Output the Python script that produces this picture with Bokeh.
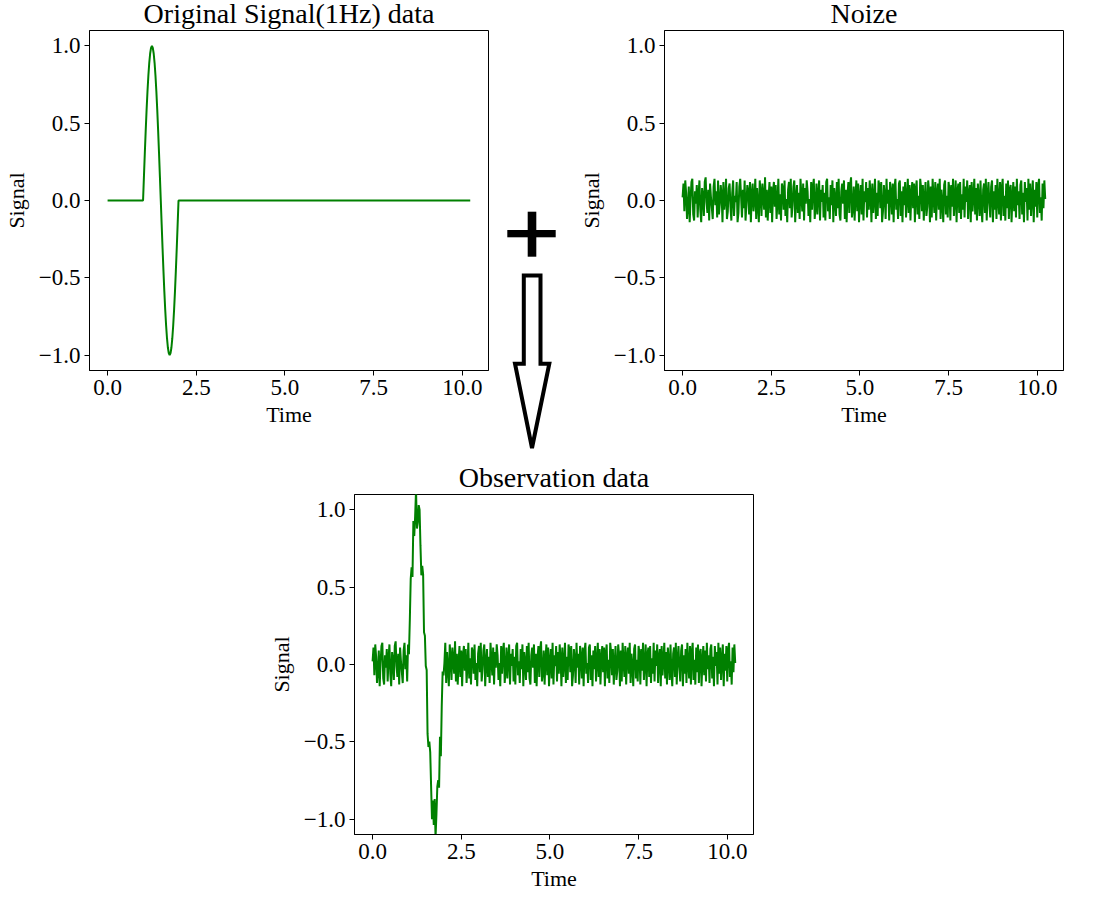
import numpy as np
from bokeh.plotting import figure
from bokeh.layouts import row, column
from bokeh.models import Range1d, FixedTicker, CustomJSTickFormatter, Spacer, Div
from bokeh.embed import file_html
from bokeh.resources import INLINE

# sampling interval of the recorded series (seconds)
dt = 0.025

# additive measurement noise, one value per sample
noise = [
    0.02, 0.11, -0.07, 0.13, 0.05, -0.12, -0.04, 0.09, -0.14, 0.01, 0.12, 0.14, -0.09, -0.13, 0.06, -0.02, 0.10, -0.11, 0.04, 0.13,
    -0.06, -0.14, 0.08, 0.03, -0.10, 0.12, 0.15, -0.01, -0.08, 0.07, -0.13, 0.11, 0.02, -0.05, -0.12, 0.09, 0.14, -0.03, 0.06, -0.11,
    0.13, -0.09, -0.02, 0.10, 0.04, -0.14, 0.12, -0.06, 0.01, 0.14, -0.12, -0.07, 0.08, 0.11, -0.04, -0.13, 0.05, 0.13, -0.10, 0.03,
    -0.01, 0.12, -0.14, -0.08, 0.09, 0.14, 0.02, -0.11, 0.07, -0.05, 0.13, -0.13, -0.02, 0.10, 0.06, -0.09, 0.12, -0.14, 0.04, 0.11,
    -0.07, 0.01, 0.14, -0.12, 0.08, -0.03, -0.14, 0.13, 0.05, -0.10, 0.11, 0.03, -0.06, 0.15, -0.11, 0.07, -0.13, 0.02, 0.12, -0.08,
    0.09, -0.14, 0.06, 0.12, -0.04, 0.10, -0.12, -0.01, 0.14, -0.09, 0.04, -0.13, 0.11, 0.08, -0.06, 0.13, -0.10, 0.01, -0.14, 0.07,
    0.12, -0.05, 0.14, -0.11, -0.03, 0.09, 0.13, -0.14, 0.02, 0.10, -0.08, 0.05, -0.12, 0.14, 0.03, -0.07, 0.11, -0.13, 0.08, -0.02,
    0.13, 0.06, -0.10, 0.01, -0.14, 0.12, -0.06, 0.09, 0.14, -0.12, -0.04, 0.11, -0.09, 0.04, 0.13, -0.13, 0.07, -0.01, 0.10, -0.11,
    0.05, -0.13, 0.12, 0.14, -0.07, 0.02, -0.12, 0.10, -0.03, 0.13, -0.14, 0.08, 0.01, -0.10, 0.12, -0.05, 0.14, -0.09, -0.13, 0.06,
    0.11, -0.02, 0.13, -0.12, 0.07, -0.14, 0.04, 0.12, -0.08, 0.10, 0.15, -0.11, -0.05, 0.09, -0.13, 0.03, 0.13, -0.07, 0.11, -0.14,
    0.02, 0.10, -0.09, 0.14, -0.13, 0.06, -0.01, 0.12, -0.11, 0.08, -0.06, 0.13, 0.04, -0.14, 0.11, -0.08, 0.01, 0.14, -0.12, 0.05,
    -0.10, 0.13, 0.09, -0.05, 0.12, -0.14, -0.07, 0.10, 0.03, -0.12, 0.14, -0.02, 0.07, -0.13, 0.12, 0.05, -0.09, 0.11, -0.14, 0.08,
    0.14, -0.06, 0.01, -0.12, 0.11, 0.13, -0.10, 0.06, -0.14, 0.09, -0.03, 0.12, -0.11, 0.02, 0.14, -0.08, 0.10, -0.13, 0.04, 0.12,
    -0.05, 0.11, -0.14, 0.07, 0.13, -0.09, 0.03, -0.12, 0.14, 0.08, -0.07, 0.10, -0.13, 0.01, 0.12, -0.10, -0.04, 0.13, 0.06, -0.14,
    0.09, -0.11, 0.14, 0.02, -0.08, 0.12, -0.13, 0.05, 0.11, -0.06, 0.14, -0.12, 0.07, -0.01, -0.14, 0.10, 0.13, -0.09, 0.03, -0.11,
    0.12, 0.07, -0.13, 0.10, -0.04, 0.14, -0.10, 0.01, 0.13, -0.14, 0.06, 0.11, -0.08, 0.12, -0.12, 0.04, -0.06, 0.14, -0.11, 0.09,
    -0.01, 0.13, -0.12, 0.05, 0.10, -0.14, 0.12, -0.07, 0.03, 0.14, -0.09, 0.08, -0.13, 0.11, 0.02, -0.10, 0.13, -0.05, -0.14, 0.07,
    0.11, -0.08, 0.14, -0.13, 0.04, 0.12, -0.02, -0.11, 0.09, 0.13, -0.14, 0.06, -0.06, 0.10, -0.12, 0.14, 0.01, -0.09, 0.12, -0.13,
    0.08, 0.14, -0.10, 0.03, -0.13, 0.11, -0.05, 0.13, -0.12, 0.07, 0.10, -0.14, 0.02, 0.12, -0.07, 0.09, -0.11, 0.14, -0.03, 0.06,
    -0.12, 0.10, 0.13, -0.09, 0.05, -0.14, 0.12, -0.01, 0.08, -0.13, 0.14, -0.06, 0.11, -0.10, 0.03, 0.13, -0.14, 0.07, -0.04, 0.12,
    -0.11, 0.09, 0.14, -0.08, 0.02, -0.13, 0.11, -0.05, 0.13, 0.01,
]

# one 1 Hz cycle of the source signal, sampled from t = 1 s to t = 2 s
pulse_start = 1.0
pulse = [
    0.0, 0.156, 0.309, 0.454, 0.588, 0.707, 0.809, 0.891, 0.951, 0.988,
    1.0, 0.988, 0.951, 0.891, 0.809, 0.707, 0.588, 0.454, 0.309, 0.156,
    0.0, -0.156, -0.309, -0.454, -0.588, -0.707, -0.809, -0.891, -0.951, -0.988,
    -1.0, -0.988, -0.951, -0.891, -0.809, -0.707, -0.588, -0.454, -0.309, -0.156,
    0.0,
]

x_ticks = [0, 2.5, 5, 7.5, 10]
y_ticks = [-1.0, -0.5, 0.0, 0.5, 1.0]

titles = ["Original Signal(1Hz) data", "Noize", "Observation data"]
x_label = "Time"
y_label = "Signal"

# assemble the series on a common time base
time = np.round(np.arange(len(noise)) * dt, 3)
signal = np.zeros(len(noise))
i0 = int(round(pulse_start / dt))
signal[i0:i0 + len(pulse)] = pulse
observation = signal + np.array(noise)

FONT = "Liberation Serif"
GREEN = "#008000"
FRAME_W, FRAME_H = 404, 340

fmt = CustomJSTickFormatter(code="return (tick < 0 ? '\u2212' : '') + Math.abs(tick).toFixed(1);")


def make_panel(title, y, left, right, top, bottom):
    p = figure(
        width=left + FRAME_W + right, height=top + FRAME_H + bottom,
        x_range=Range1d(-0.51, 10.74), y_range=Range1d(-1.1, 1.1),
        output_backend="svg", toolbar_location=None, title=title,
        min_border_left=left, min_border_right=right,
        min_border_top=top, min_border_bottom=bottom,
    )
    p.line(time, y, line_color=GREEN, line_width=2)

    p.title.text_font = FONT
    p.title.text_font_size = "28px"
    p.title.text_font_style = "normal"
    p.title.text_color = "black"
    p.title.align = "center"
    p.title.standoff = 3

    p.xaxis.ticker = FixedTicker(ticks=x_ticks)
    p.yaxis.ticker = FixedTicker(ticks=y_ticks)
    p.xaxis.axis_label = x_label
    p.yaxis.axis_label = y_label
    for ax in (p.xaxis, p.yaxis):
        ax.formatter = fmt
        ax.major_label_text_font = FONT
        ax.major_label_text_font_size = "23px"
        ax.major_label_text_color = "black"
        ax.axis_label_text_font = FONT
        ax.axis_label_text_font_size = "22px"
        ax.axis_label_text_font_style = "normal"
        ax.axis_label_text_color = "black"
        ax.axis_line_color = "black"
        ax.major_tick_line_color = "black"
        ax.major_tick_out = 5
        ax.major_tick_in = 0
        ax.minor_tick_out = 0
        ax.minor_tick_in = 0
        ax.major_label_standoff = 4
    p.xaxis.axis_label_standoff = 4
    p.yaxis.axis_label_standoff = 7

    p.xgrid.visible = False
    p.ygrid.visible = False
    p.outline_line_color = "black"
    p.outline_line_alpha = 1.0
    p.outline_line_width = 1
    p.background_fill_color = "white"
    p.border_fill_color = "white"
    return p


# the upper row is pulled up a few pixels so its headings sit at the page edge
LIFT = 7
TOP_ROW_H = 455 + LIFT
MID_X0, MID_W = 500, 75
p_signal = make_panel(titles[0], signal, left=84, right=MID_X0 - 84 - FRAME_W, top=37, bottom=85)
p_noise = make_panel(titles[1], np.array(noise), left=84, right=44, top=37, bottom=85)
p_obs = make_panel(titles[2], observation, left=84, right=20, top=39, bottom=65)

# connector between the two upper panels: a bold plus sign and a hollow
# down arrow pointing at the lower panel (page-pixel geometry)
plus_bars = [  # (left, top, right, bottom)
    (507.3, 230.0, 555.7, 237.3),
    (527.7, 211.7, 536.3, 256.7),
]
arrow_x = [523.8, 540.5, 540.5, 549.3, 532.0, 515.0, 523.8]
arrow_y = [275.5, 275.5, 363.7, 363.7, 448.0, 363.7, 363.7]

shapes = []
for l, t, r, b in plus_bars:
    shapes.append(f'<rect x="{l - MID_X0:.1f}" y="{t + LIFT:.1f}" width="{r - l:.1f}" '
                  f'height="{b - t:.1f}" fill="black"/>')
pts = " ".join(f"{x - MID_X0:.1f},{y + LIFT:.1f}" for x, y in zip(arrow_x, arrow_y))
shapes.append(f'<polygon points="{pts}" fill="white" stroke="black" '
              f'stroke-width="4" stroke-linejoin="miter"/>')
svg = (f'<svg xmlns="http://www.w3.org/2000/svg" width="{MID_W}" height="{TOP_ROW_H}" '
       f'style="display:block">' + "".join(shapes) + "</svg>")
connector = Div(text=svg, width=MID_W, height=TOP_ROW_H, margin=(0, 0, 0, 0))

layout = column(
    row(p_signal, connector, p_noise, margin=(-LIFT, 0, 0, 0)),
    row(Spacer(width=265, height=444), p_obs),
)

with open("out.html", "w") as f:
    f.write(file_html(layout, INLINE))
